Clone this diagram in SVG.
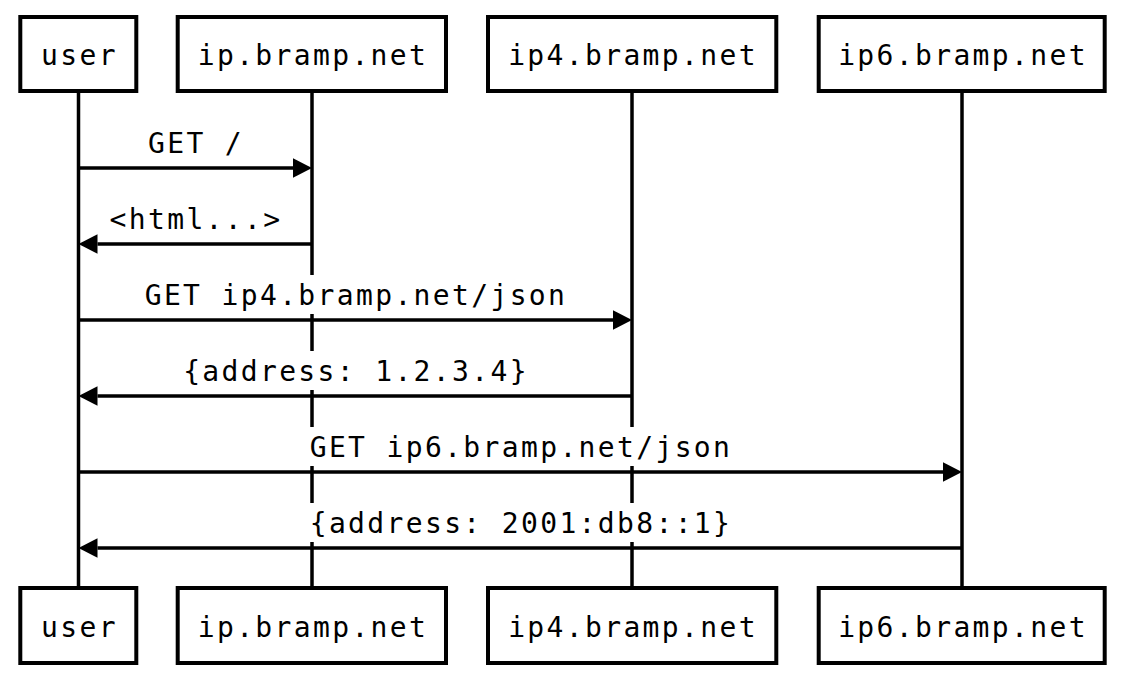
<svg xmlns="http://www.w3.org/2000/svg" width="1132" height="682" viewBox="0 0 1132 682">
  <style>
    .box { fill: #ffffff; stroke: #000000; stroke-width: 4; }
    .life { stroke: #000000; stroke-width: 3.5; fill: none; }
    .msg { stroke: #000000; stroke-width: 3.5; fill: none; marker-end: url(#arrow); }
    .lblbg { fill: #ffffff; stroke: none; }
    text { font-family: "DejaVu Sans Mono", "Liberation Mono", monospace; font-size: 28px; letter-spacing: 2.35px; fill: #000000; text-anchor: middle; }
  </style>
  <defs>
    <marker id="arrow" markerUnits="userSpaceOnUse" markerWidth="20" markerHeight="20" refX="0" refY="9.7" orient="auto" overflow="visible">
      <path d="M0,0 L19,9.7 L0,19.4 Z" fill="#000000"/>
    </marker>
  </defs>
  <rect x="0" y="0" width="1132" height="682" fill="#ffffff"/>

  <g id="connectors">
    <g id="lifelines">
      <line class="life" x1="78.5" y1="92" x2="78.5" y2="588"/>
      <line class="life" x1="312" y1="92" x2="312" y2="588"/>
      <line class="life" x1="632" y1="92" x2="632" y2="588"/>
      <line class="life" x1="962" y1="92" x2="962" y2="588"/>
    </g>
    <g id="msg1">
      <rect class="lblbg" x="145" y="123" width="100" height="39"/>
      <text x="196" y="153">GET /</text>
      <line class="msg" x1="78.5" y1="168" x2="293" y2="168"/>
    </g>
    <g id="msg2">
      <rect class="lblbg" x="107" y="199" width="176" height="39"/>
      <text x="196" y="229">&lt;html...&gt;</text>
      <line class="msg" x1="312" y1="244" x2="97.5" y2="244"/>
    </g>
    <g id="msg3">
      <rect class="lblbg" x="141" y="275" width="430" height="39"/>
      <text x="356" y="305">GET ip4.bramp.net/json</text>
      <line class="msg" x1="78.5" y1="320" x2="613" y2="320"/>
    </g>
    <g id="msg4">
      <rect class="lblbg" x="181" y="351" width="350" height="39"/>
      <text x="356" y="381">{address: 1.2.3.4}</text>
      <line class="msg" x1="632" y1="396" x2="97.5" y2="396"/>
    </g>
    <g id="msg5">
      <rect class="lblbg" x="305" y="427" width="430" height="39"/>
      <text x="521" y="457">GET ip6.bramp.net/json</text>
      <line class="msg" x1="78.5" y1="472" x2="943" y2="472"/>
    </g>
    <g id="msg6">
      <rect class="lblbg" x="305" y="503" width="430" height="39"/>
      <text x="521" y="533">{address: 2001:db8::1}</text>
      <line class="msg" x1="962" y1="548" x2="97.5" y2="548"/>
    </g>
  </g>

  <g id="user-top">
    <rect class="box" x="20.3" y="17" width="116" height="74"/>
    <text x="79.5" y="65">user</text>
  </g>
  <g id="ip-top">
    <rect class="box" x="177.7" y="17" width="268.3" height="74"/>
    <text x="313" y="65">ip.bramp.net</text>
  </g>
  <g id="ip4-top">
    <rect class="box" x="488" y="17" width="288.3" height="74"/>
    <text x="633" y="65">ip4.bramp.net</text>
  </g>
  <g id="ip6-top">
    <rect class="box" x="818.7" y="17" width="286" height="74"/>
    <text x="963" y="65">ip6.bramp.net</text>
  </g>

  <g id="user-bottom">
    <rect class="box" x="20.3" y="588" width="116" height="75"/>
    <text x="79.5" y="637">user</text>
  </g>
  <g id="ip-bottom">
    <rect class="box" x="177.7" y="588" width="268.3" height="75"/>
    <text x="313" y="637">ip.bramp.net</text>
  </g>
  <g id="ip4-bottom">
    <rect class="box" x="488" y="588" width="288.3" height="75"/>
    <text x="633" y="637">ip4.bramp.net</text>
  </g>
  <g id="ip6-bottom">
    <rect class="box" x="818.7" y="588" width="286" height="75"/>
    <text x="963" y="637">ip6.bramp.net</text>
  </g>
</svg>
